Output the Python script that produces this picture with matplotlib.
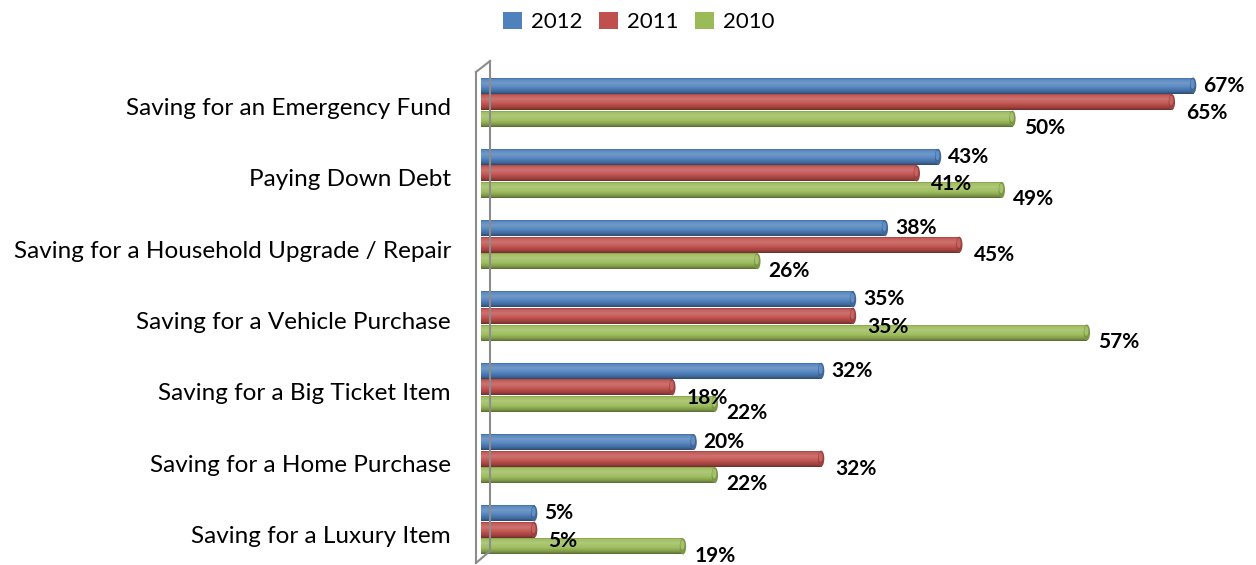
import matplotlib
matplotlib.use("Agg")
import matplotlib.pyplot as plt
import numpy as np
from matplotlib.colors import to_rgb
from matplotlib.lines import Line2D
from matplotlib.patches import Patch

plt.rcParams['font.family'] = ['Lato', 'DejaVu Sans']

categories = ["Saving for an Emergency Fund", "Paying Down Debt",
              "Saving for a Household Upgrade / Repair", "Saving for a Vehicle Purchase",
              "Saving for a Big Ticket Item", "Saving for a Home Purchase",
              "Saving for a Luxury Item"]
series_names = ["2012", "2011", "2010"]
v2012 = [67, 43, 38, 35, 32, 20, 5]
v2011 = [65, 41, 45, 35, 18, 32, 5]
v2010 = [50, 49, 26, 57, 22, 22, 19]
series = [v2012, v2011, v2010]
colors = ["#4F81BD", "#C0504D", "#9BBB59"]

W, H = 1256, 565
fig = plt.figure(figsize=(W / 100, H / 100), dpi=100)
ax_left, ax_right = 481 / W, (481 + 744) / W
ax_top, ax_bot = 1 - 70 / H, 3 / H
ax = fig.add_axes([ax_left, ax_bot, ax_right - ax_left, ax_top - ax_bot])

bar_h = 0.225
step = 0.232
offsets = [-step, 0, step]

def shade(c, f):
    r = np.array(to_rgb(c))
    if f >= 0:
        return r + (1 - r) * f
    return r * (1 + f)

label_dy = [0.0, 0.15, 0.13]
label_dx = [0.95, 1.35, 1.05]

for si, (vals, col) in enumerate(zip(series, colors)):
    t = np.linspace(0, 1, 64)
    prof = np.interp(t, [0, 0.12, 0.35, 0.6, 0.85, 1.0], [-0.35, 0.05, 0.2, 0.05, -0.18, -0.42])
    grad = np.array([shade(col, p) for p in prof])[:, None, :]
    for ci, v in enumerate(vals):
        y = ci + offsets[si]
        bars = ax.barh(y, v, height=bar_h, color=col, edgecolor='none', zorder=2)
        p = bars[0]
        im = ax.imshow(grad, extent=(0, v, y + bar_h / 2, y - bar_h / 2),
                       aspect='auto', zorder=3, interpolation='bilinear')
        im.set_clip_path(p)
        cap = matplotlib.patches.Ellipse((v, y), width=0.6, height=bar_h,
                                         facecolor=shade(col, -0.2), edgecolor='none', zorder=4)
        ax.add_patch(cap)
        cap2 = matplotlib.patches.Ellipse((v - 0.05, y - bar_h * 0.1), width=0.38, height=bar_h * 0.6,
                                          facecolor=shade(col, 0.1), edgecolor='none', zorder=4)
        ax.add_patch(cap2)
        ax.text(v + label_dx[si], y + label_dy[si], f"{v}%", ha='left', va='center', fontsize=15,
                fontweight='bold', color='black', zorder=5)

ax.set_xlim(0, 70)
ax.set_ylim(6.45, -0.45)
ax.axis('off')

wc = "#8c8c8c"
fig.add_artist(Line2D([476 / W, 476 / W], [1 - 72 / H, 1 - 563 / H], color=wc, lw=1.5))
fig.add_artist(Line2D([490 / W, 490 / W], [1 - 61 / H, 1 - 551 / H], color=wc, lw=1.5))
fig.add_artist(Line2D([476 / W, 490 / W], [1 - 72 / H, 1 - 61 / H], color=wc, lw=1.5))
fig.add_artist(Line2D([476 / W, 490 / W], [1 - 563 / H, 1 - 551 / H], color=wc, lw=1.5))

for ci, c in enumerate(categories):
    ax.text(-30 / 744 * 70, ci + 0.09, c, ha='right', va='center', fontsize=17.5, color='black')

handles = [Patch(facecolor=c, edgecolor='none') for c in colors]
fig.legend(handles, series_names, loc='center', bbox_to_anchor=(639 / W, 1 - 22 / H),
           ncol=3, frameon=False, fontsize=16, handlelength=0.85, handleheight=0.85,
           handletextpad=0.4, columnspacing=0.75)

fig.savefig("out.png", dpi=100)
